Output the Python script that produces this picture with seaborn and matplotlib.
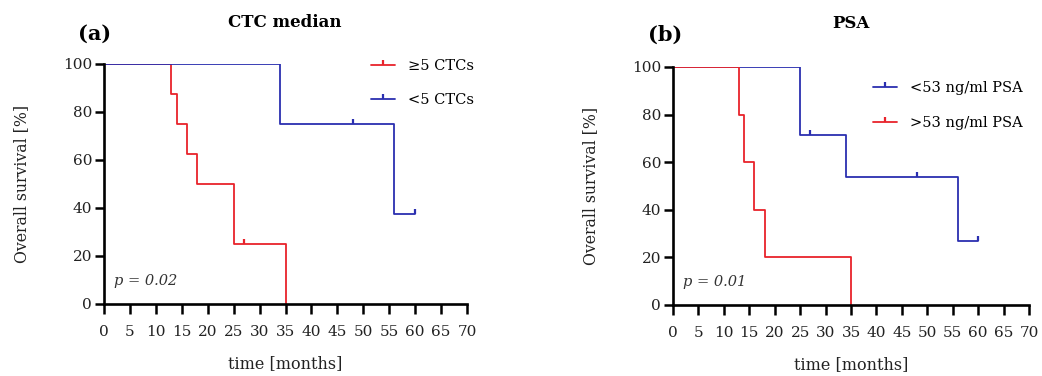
import numpy as np
import pandas as pd
import matplotlib
matplotlib.use('Agg')
import matplotlib.pyplot as plt
import seaborn as sns
from matplotlib.lines import Line2D

# panel (a) - CTC median
ctc_hi_t = [0, 13, 14, 16, 18, 25, 35]
ctc_hi_s = [100, 87.5, 75, 62.5, 50, 25, 0]
ctc_hi_cens_t = [27]
ctc_hi_cens_s = [25]

ctc_lo_t = [0, 34, 56, 60]
ctc_lo_s = [100, 75, 37.5, 37.5]
ctc_lo_cens_t = [48, 60]
ctc_lo_cens_s = [75, 37.5]

# panel (b) - PSA
psa_lo_t = [0, 25, 34, 56, 60]
psa_lo_s = [100, 71.4, 53.6, 26.8, 26.8]
psa_lo_cens_t = [27, 48, 60]
psa_lo_cens_s = [71.4, 53.6, 26.8]

psa_hi_t = [0, 13, 14, 16, 18, 35]
psa_hi_s = [100, 80, 60, 40, 20, 0]

xticks = list(range(0, 75, 5))
yticks = [0, 20, 40, 60, 80, 100]

RED = '#e8232b'
BLUE = '#2b2fb0'

sns.set_style('ticks')
plt.rcParams['font.family'] = ['DejaVu Serif']
plt.rcParams['mathtext.fontset'] = 'dejavuserif'
plt.rcParams['text.color'] = 'black'
plt.rcParams['axes.labelcolor'] = '#222222'

tick_marker = [(0, 0), (0, 1)]

fig = plt.figure(figsize=(10.42, 3.76), dpi=100)
ax1 = fig.add_axes([0.0998, 0.1915, 0.3484, 0.6385])
ax2 = fig.add_axes([0.6459, 0.189, 0.3416, 0.633])


def km(ax, t, s, color, ct=None, cs=None):
    sns.lineplot(x=t, y=s, drawstyle='steps-post', color=color, lw=1.3,
                 estimator=None, sort=False, ax=ax)
    if ct:
        ax.plot(ct, cs, ls='none', marker=tick_marker, ms=7, mew=1.6, color=color)


def style(ax, ptext):
    ax.set_xlim(0, 70)
    ax.set_ylim(0, 100)
    ax.set_xticks(xticks)
    ax.set_yticks(yticks)
    ax.tick_params(axis='x', direction='out', length=7, width=1.8,
                   labelsize=11, colors='black', labelcolor='#222222', pad=8)
    ax.tick_params(axis='y', direction='out', length=6.5, width=1.8,
                   labelsize=11, colors='black', labelcolor='#222222', pad=2)
    for sp in ['top', 'right']:
        ax.spines[sp].set_visible(False)
    for sp in ['left', 'bottom']:
        ax.spines[sp].set_linewidth(1.9)
        ax.spines[sp].set_color('black')
    ax.set_xlabel('time [months]', fontsize=11.5, labelpad=12)
    ax.set_ylabel('Overall survival [%]', fontsize=11.3, labelpad=24)
    ax.text(2, 8, ptext, fontsize=10.5, style='italic', color='#333333')
    ax.grid(False)


km(ax1, ctc_hi_t, ctc_hi_s, RED, ctc_hi_cens_t, ctc_hi_cens_s)
km(ax1, ctc_lo_t, ctc_lo_s, BLUE, ctc_lo_cens_t, ctc_lo_cens_s)
style(ax1, 'p = 0.02')
h1 = [Line2D([], [], color=RED, lw=1.3, marker=tick_marker, ms=7, mew=1.6),
      Line2D([], [], color=BLUE, lw=1.3, marker=tick_marker, ms=7, mew=1.6)]
ax1.legend(h1, ['≥5 CTCs', '<5 CTCs'], loc='upper left', bbox_to_anchor=(0.70, 1.075),
           frameon=False, fontsize=10.5, handlelength=1.65, labelspacing=1.4,
           numpoints=1, handletextpad=0.9)

km(ax2, psa_lo_t, psa_lo_s, BLUE, psa_lo_cens_t, psa_lo_cens_s)
km(ax2, psa_hi_t, psa_hi_s, RED)
style(ax2, 'p = 0.01')
h2 = [Line2D([], [], color=BLUE, lw=1.3, marker=tick_marker, ms=7, mew=1.6),
      Line2D([], [], color=RED, lw=1.3, marker=tick_marker, ms=7, mew=1.6)]
ax2.legend(h2, ['<53 ng/ml PSA', '>53 ng/ml PSA'], loc='upper left',
           bbox_to_anchor=(0.525, 0.995), frameon=False, fontsize=10.5,
           handlelength=1.65, labelspacing=1.4, numpoints=1, handletextpad=0.9)

fig.text(0.075, 0.91, '(a)', fontsize=15, fontweight='bold', ha='left', va='center')
fig.text(0.2735, 0.94, 'CTC median', fontsize=12, fontweight='bold', ha='center', va='center')
fig.text(0.622, 0.907, '(b)', fontsize=15, fontweight='bold', ha='left', va='center')
fig.text(0.817, 0.937, 'PSA', fontsize=12, fontweight='bold', ha='center', va='center')

fig.savefig('out.png', dpi=100, facecolor='white')
